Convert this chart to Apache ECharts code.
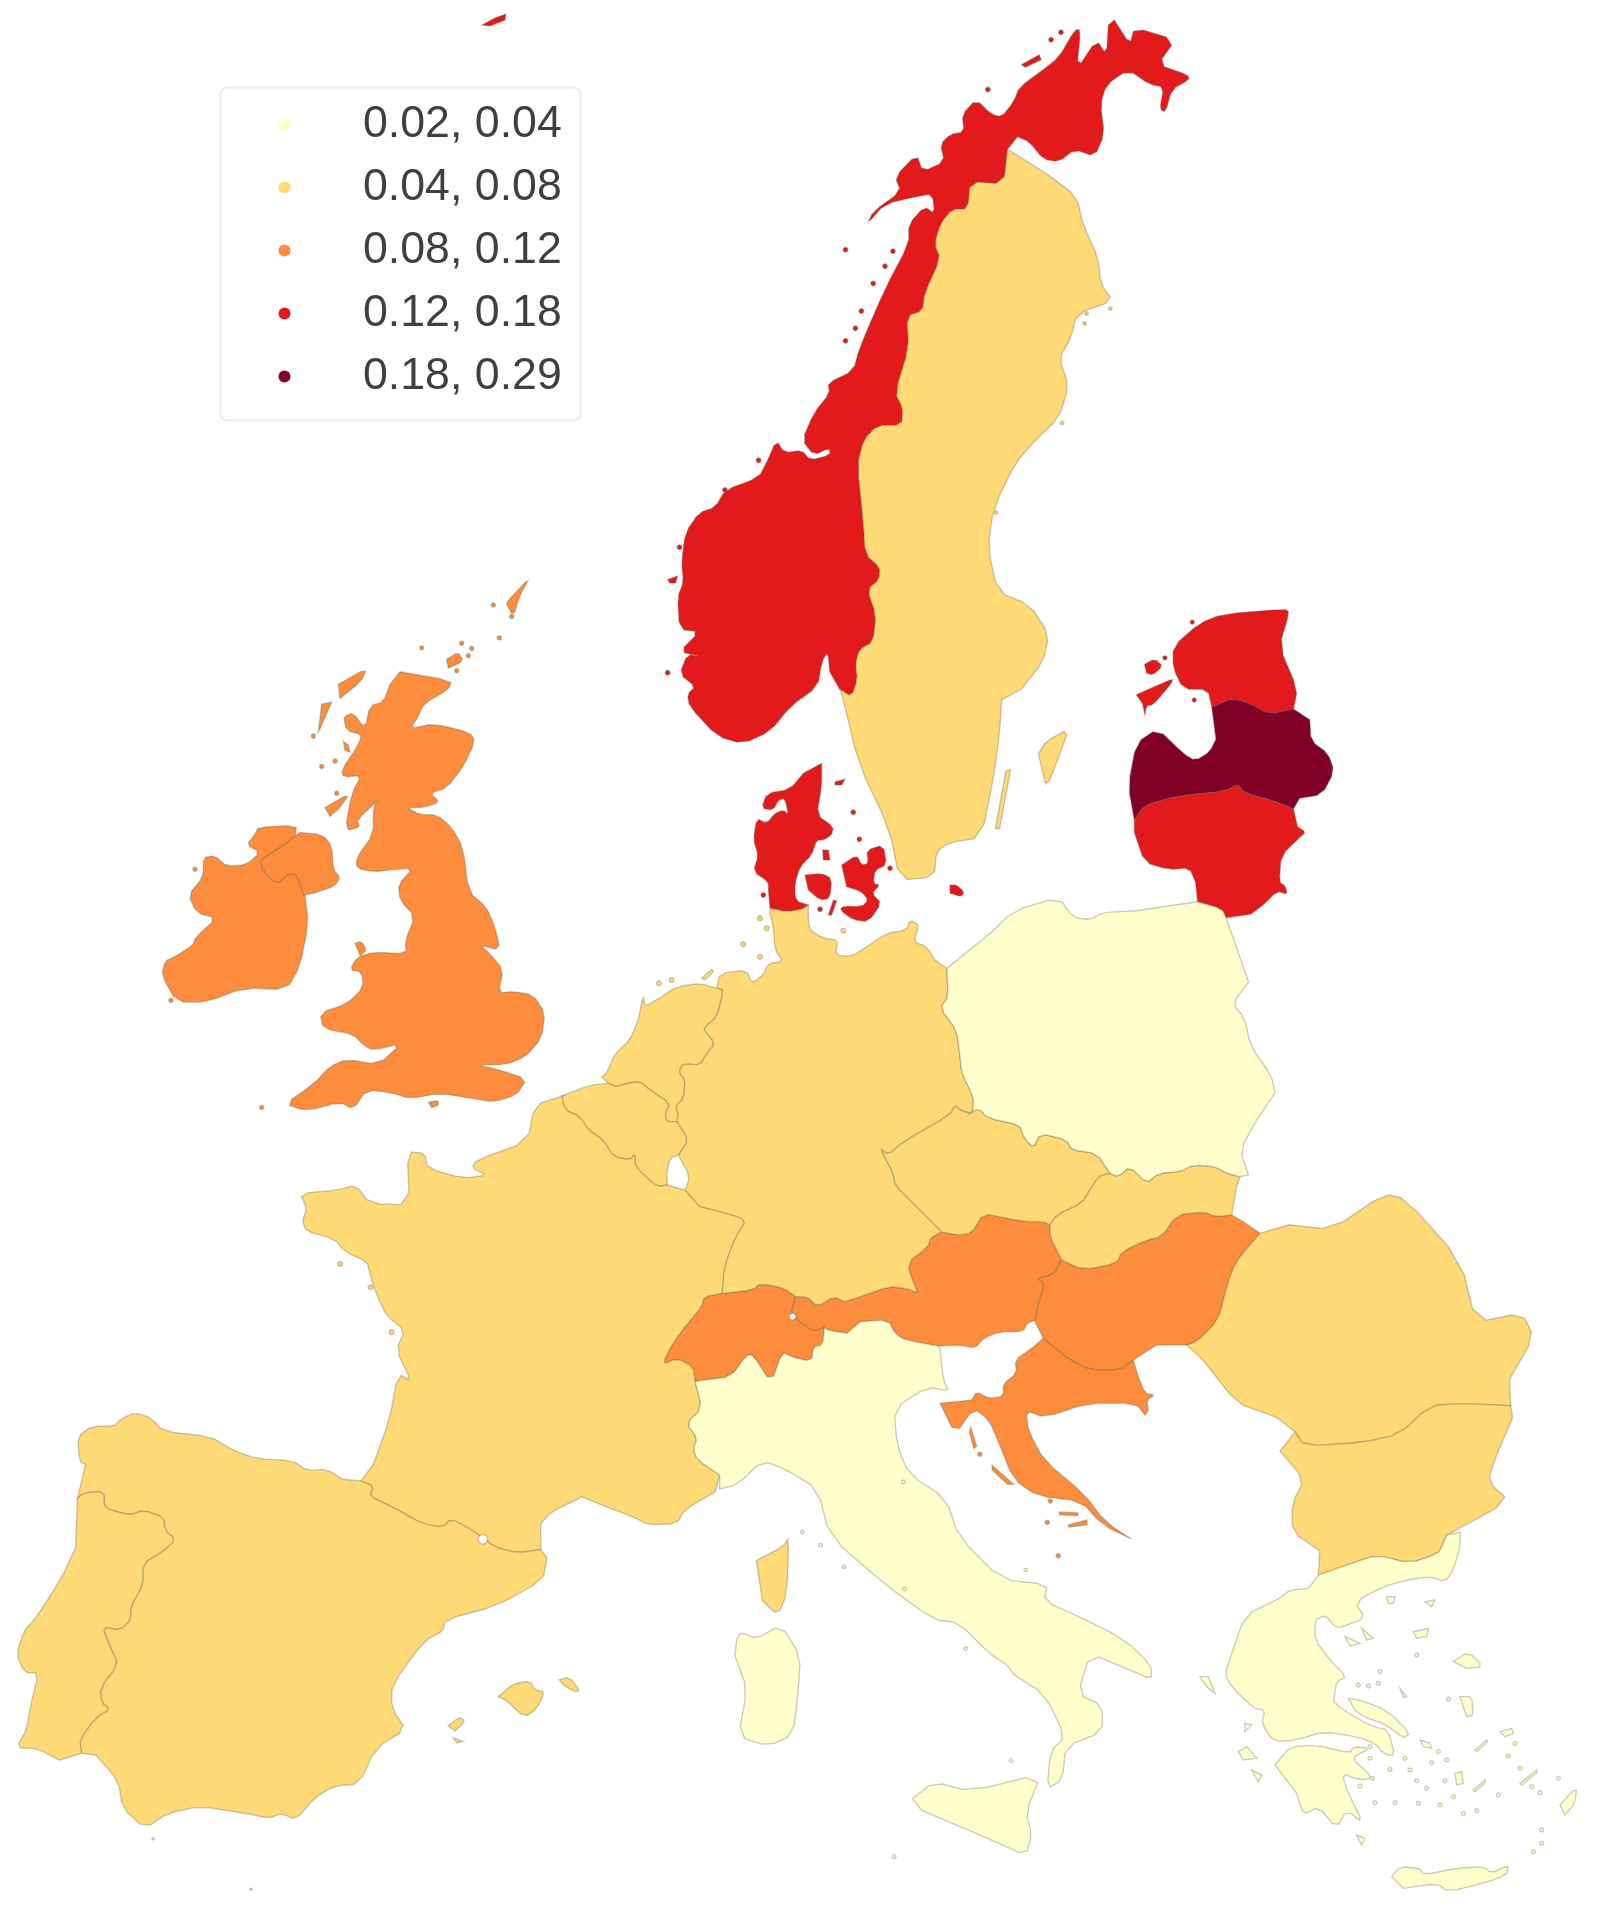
<!DOCTYPE html>
<html><head><meta charset="utf-8">
<style>html,body{margin:0;padding:0;background:#fff}#c{position:absolute;left:0;top:0;width:1597px;height:1917px;filter:blur(0.7px)}</style>
<script src="https://cdn.jsdelivr.net/npm/echarts@6/dist/echarts.min.js"></script>
</head><body><div id="c"></div>
<script>
// ---- DATA ----
const countries = ['Norway','Denmark','Estonia','Lithuania','Latvia','United Kingdom','Ireland','Switzerland','Austria','Hungary','Croatia','Sweden','Germany','Netherlands','Belgium','France','Spain','Portugal','Czechia','Slovakia','Romania','Bulgaria','Poland','Italy','Greece'];
const values    = [0.15,0.14,0.15,0.15,0.23,0.10,0.10,0.10,0.09,0.10,0.09,0.06,0.06,0.05,0.06,0.06,0.06,0.05,0.06,0.06,0.05,0.05,0.03,0.03,0.03];
const binLower  = [0.02,0.04,0.08,0.12,0.18];
const binUpper  = [0.04,0.08,0.12,0.18,0.29];
const binLabels = ['0.02, 0.04','0.04, 0.08','0.08, 0.12','0.12, 0.18','0.18, 0.29'];
const binColors = ['#ffffcc','#fed976','#fd8d3c','#e31a1c','#800026'];

// ---- map geometry (traced outlines, in map units) ----
const FR={c2:[640,0,2.53,2.01],c3:[140,570,3,2.8],c4:[720,600,2.45,2.8],c5:[280,1080,2.24,3],c6:[640,1170,1.633,2.1],c7:[0,1380,2.45,2.92],c8:[560,910,3,3],c9:[860,1090,3,3],c10:[1190,1540,3,3],c11:[740,750,3,3]};
// rounds the corners of a traced line a little, keeping its two end points
function soften(p){if(p.length<3)return p;const k=0.22,o=[p[0]];for(let i=0;i<p.length-1;i++){const a=p[i],b=p[i+1];if(i>0)o.push([a[0]+(b[0]-a[0])*k,a[1]+(b[1]-a[1])*k]);if(i<p.length-2)o.push([b[0]-(b[0]-a[0])*k,b[1]-(b[1]-a[1])*k]);}o.push(p[p.length-1]);return o;}
function raw(f,a){const F=FR[f],o=[];for(let i=0;i<a.length;i+=2)o.push([F[0]+a[i]/F[2],F[1]+a[i+1]/F[3]]);return o;}
function L(f,a){return soften(raw(f,a));}
const R=l=>l.slice().reverse();
const ring=(...ls)=>[].concat(...ls);
function dots(f,a,r){return raw(f,a).map(p=>[[p[0]-r,p[1]],[p[0]-r*.7,p[1]-r*.7],[p[0],p[1]-r],[p[0]+r*.7,p[1]-r*.7],[p[0]+r,p[1]],[p[0]+r*.7,p[1]+r*.7],[p[0],p[1]+r],[p[0]-r*.7,p[1]+r*.7]]);}

const noSe=L('c2',[930,300,920,370,835,365,830,420,790,420,760,450,745,490,760,520,720,590,715,625,675,635,680,700,645,790,665,820,662,855,600,855,565,885,550,935,565,1050,570,1115,607,1140,605,1165,575,1185,597,1235,590,1290,555,1305,545,1335,550,1365,535,1400,505,1385]);
const dkDe=L('c11',[90,475,140,485,185,478,205,465]);
const dePl=L('c8',[1160,175,1165,260,1140,295,1190,360,1200,440,1205,490,1240,560,1240,600,1230,609]);
const deCz=L('c9',[330,70,300,60,285,45,270,75,130,155,85,195,60,175,100,250,105,285,170,350,245,425]);
const deAt=ring(L('c9',[245,425,210,445,205,470,140,520,165,590,175,610,140,595,85,590,0,620]),L('c5',[1265,665,1240,650,1205,680,1180,650,1155,650]));
const deCh=L('c5',[1155,650,1130,625,1075,610,1060,630,990,640]);
const deFr=ring(L('c5',[990,640,995,560,1020,470,1045,420,1000,400,940,380]),L('c8',[375,840]));
const deLu=L('c8',[375,840,390,800,355,735]);
const deBe=L('c8',[355,735,385,690,360,650,350,635]);
const nlDe=L('c8',[350,635,355,610,345,590,370,565,375,510,355,485,370,460,420,465,440,430,465,400,430,360,440,345,470,320,490,240,470,235]);
const nlBe=L('c8',[145,520,170,530,200,520,240,515,270,540,330,580,315,610,320,635,350,635]);
const beFr=L('c8',[5,558,15,600,60,620,85,660,130,690,160,740,210,750,225,730,225,770,290,830,322,825]);
const beLu=L('c8',[322,825,320,790,330,745,355,735]);
const frEs=L('c7',[885,295,915,310,905,340,960,370,1035,420,1085,430,1105,405,1160,440,1215,490,1270,505,1325,495]);
const esPt=L('c7',[190,345,205,330,255,325,255,375,320,395,350,380,400,400,405,440,430,465,400,500,350,535,350,600,320,660,320,700,295,730,250,720,270,780,290,830,245,900,250,945,270,960,235,985,195,1050,200,1090]);
const frIt=L('c5',[985,1185,935,1140,925,1105,935,1075,910,1030,945,985,930,905]);
const frCh=L('c5',[930,905,925,860,890,835,855,855,880,790,910,735,945,680,950,650,990,640]);
const chAt=L('c5',[1155,650,1145,700,1160,720,1195,755,1220,740]);
const chIt=L('c5',[1220,740,1215,795,1195,800,1190,845,1145,830,1125,815,1100,910,1060,825,1045,825,1010,890,950,900,930,905]);
const atCz=L('c9',[245,425,290,435,335,430,370,370,440,385,500,395,550,395,570,405]);
const atSk=L('c9',[570,405,570,440,605,510]);
const atHu=L('c9',[605,510,580,555,530,565,555,580,535,640,530,670]);
const atSi=L('c9',[530,670,530,690,500,700,490,725,420,725,370,745,345,775,300,765,235,768]);
const atIt=ring(L('c9',[235,768,135,750,105,730,85,690,0,695]),L('c5',[1270,760,1225,750,1220,740]));
const czPl=L('c9',[330,70,355,55,385,85,480,105,490,140,520,175,540,130,620,150,635,180,710,190,750,250]);
const czSk=L('c9',[750,250,715,260,690,300,665,340,590,375,570,405]);
const skPl=L('c9',[750,250,775,260,810,230,860,280,895,250,960,245,1000,225,1065,230,1100,250,1140,260]);
const skHu=L('c9',[1115,375,1065,380,1030,365,950,375,905,440,860,450,785,485,770,520,670,540,605,510]);
const huRo=L('c9',[1200,430,1165,470,1125,520,1100,590,1075,690,1010,755,980,765]);
const huHr=L('c9',[820,810,780,840,690,840,630,810,580,770,550,745]);
const ltPl=L('c4',[1170,845,1230,865,1240,890]);
const lvLt=L('c4',[1015,615,1040,575,1100,555,1150,545,1240,535,1268,515,1285,540,1350,560,1405,585]);
const etLv=L('c4',[1205,300,1255,275,1300,290,1345,320,1405,305]);
const roBg=L('c6',[1422,495,1340,490,1290,495,1240,555,1180,572,1085,580,1070,550]);
const bgGr=L('c10',[770,-15,755,20,745,40,660,70,560,45,500,65,385,105]);
const niIe=L('c3',[465,745,430,770,380,800,360,815,370,845,410,880,450,850,470,855,490,910]);

const outlines={
 'Norway':[ring(L('c2',[1200,40,1240,90,1250,55,1355,80,1310,130,1385,150,1390,160,1345,180,1330,225,1315,220,1325,175,1290,170,1235,140,1180,170,1165,210,1175,270,1150,315,1100,300,1060,325,1020,320,985,285,955,275]),noSe,L('c2',[480,1350,475,1310,460,1330,450,1380,380,1420,330,1470,260,1495,195,1480,125,1420,120,1395,140,1380,100,1355,120,1315,155,1320,100,1310,150,1270,100,1265,95,1200,110,1170,105,1130,115,1070,150,1030,190,1020,215,985,300,960,320,930,345,885,365,910,410,905,430,925,480,915,480,900,440,915,410,885,440,830,480,790,475,770,540,745,555,700,620,580,680,490,680,450,720,415,745,430,740,390,700,395,620,410,575,450,590,425,660,385,645,355,700,310,715,345,770,325,760,290,785,270,820,265,815,230,850,200,890,230,915,235,945,205,960,175,1020,140,1060,115,1100,60,1115,60,1105,140,1155,80,1180,110,1185,50])),
  raw('c2',[965,130,1010,110,1015,120,975,135]),raw('c2',[70,1165,95,1158,90,1172,75,1172]),
  [[482,25],[495,18],[506,14],[505,20],[490,26]],
  ...dots('c2',[520,502,300,925,520,685,545,660,560,625,590,570,620,535,640,505,1040,80,1065,65,880,180,70,1352,215,985,100,1100],2.5)],
 'Sweden':[ring(R(noSe),L('c2',[1030,350,1105,395,1120,450,1160,520,1165,570,1197,605,1105,630,1090,680,1060,720,1085,775,1060,840,1000,885,950,930,895,1020,880,1100,905,1190,985,1215,1035,1275,1020,1330,965,1385]),L('c4',[690,280,685,370,670,500,640,665,560,680,530,705,525,775,440,785,415,640,340,460,300,270])),
  L('c4',[780,430,800,395,855,360,830,440,800,525,790,480]),raw('c4',[700,480,712,475,685,640,675,640]),
  ...dots('c2',[1130,630,1190,620,1125,650,1068,850,900,1030],1.8)],
 'Denmark':[ring(L('c11',[245,40,245,110,230,195,280,230,275,255,250,270,230,270,215,315,180,350,165,400,165,440,175,455]),R(dkDe),L('c11',[85,420,85,395,40,365,55,315,40,270,50,205,80,220,105,190,130,180,145,195,135,145,115,150,100,180,65,175,80,130,150,118,190,70])),
  L('c11',[195,375,245,370,275,385,270,445,240,450,205,420]),
  L('c11',[305,345,350,315,365,345,385,340,380,300,430,285,440,345,405,360,400,400,420,405,395,430,425,460,385,515,340,510,300,480,310,468,365,470,385,450,365,425,320,410]),
  raw('c11',[280,450,290,452,275,495,265,495]),
  L('c11',[630,405,650,405,672,425,665,440,630,430]),
  raw('c11',[285,95,315,88,305,105,285,105]),raw('c11',[248,300,265,300,270,330,250,330]),
  ...dots('c11',[340,187,358,268,450,355,240,478,70,435],2.5)],
 'Estonia':[ring(L('c4',[1205,300,1195,250,1135,250,1110,190,1110,130,1175,65,1230,40,1385,25,1395,35,1370,130,1415,250,1405,305]),R(etLv)),
  L('c4',[1020,265,1060,245,1110,220,1105,235,1060,295,1045,295,1040,330,1035,290]),L('c4',[1040,180,1065,165,1085,185,1060,210,1045,205]),
  ...dots('c4',[1090,162,1157,62,1162,280],2.2)],
 'Latvia':[ring(L('c4',[1015,615,1000,520,1020,400,1072,360,1135,430,1165,450,1200,425,1215,390]),etLv,L('c4',[1445,335,1448,395,1490,430,1505,480,1475,545,1420,555]),R(lvLt))],
 'Lithuania':[ring(lvLt,L('c4',[1415,635,1435,650,1420,665,1375,715,1370,790,1385,800,1390,825,1365,815,1330,855,1300,880]),R(ltPl),L('c4',[1165,790,1150,750,1100,755,1040,735,1015,650]))],
 'United Kingdom':[L('c3',[780,285,935,310,925,335,850,375,835,410,810,445,880,430,990,455,1005,480,970,550,920,610,870,625,900,650,850,665,800,665,840,685,890,685,935,720,970,780,985,900,1040,945,1065,1000,1080,1065,1020,1050,1050,1075,1090,1120,1075,1185,1120,1180,1180,1190,1215,1240,1205,1310,1160,1360,1100,1385,1010,1385,1080,1400,1160,1425,1130,1470,1060,1490,1000,1480,900,1465,810,1480,760,1465,680,1455,640,1510,600,1490,500,1515,435,1495,520,1440,570,1390,620,1370,715,1385,785,1325,700,1345,670,1330,640,1300,550,1285,540,1240,620,1215,670,1170,665,1125,630,1120,650,1085,700,1070,800,1075,795,1040,825,970,780,925,775,880,820,835,750,840,700,845,650,835,650,805,700,740,700,660,720,640,650,700,660,720,615,730,635,625,665,575,610,580,605,560,655,490,665,460,620,450,610,410,640,400,675,445,690,380,730,370,750,320]),
  ring(niIe,L('c3',[520,905,585,885,600,860,580,840,575,770,545,740,480,735])),
  L('c3',[645,1045,665,1040,680,1065,660,1080]),L('c3',[865,1490,895,1485,895,1500,875,1505]),
  L('c3',[595,320,680,275,665,310,600,360]),raw('c3',[545,375,575,370,535,455]),L('c3',[555,665,630,625,600,665,570,690]),
  L('c3',[920,250,955,230,970,255,925,275]),L('c3',[1105,85,1170,20,1140,70,1120,130,1100,95]),
  raw('c3',[610,480,625,490,630,510,615,505]),
  ...dots('c3',[1060,98,1078,190,845,218,520,465,545,550,585,535,590,625,365,1505,965,205,995,220,985,240,950,282,1115,130],2.2)],
 'Ireland':[ring(L('c3',[465,745,470,715,355,720,345,740,320,770,360,790,320,825,260,830,225,800,190,805,190,860,145,910,170,960,230,975,165,1030,160,1050,100,1085,75,1095,65,1135,110,1210,200,1210,310,1170,440,1175,480,1110,505,990,495,910]),R(niIe)),
  ...dots('c3',[93,1205,165,838],2.2)],
 'Switzerland':[ring(R(deCh),chAt,chIt,frCh)],
 'Austria':[ring(R(deAt),atCz,atSk,atHu,atSi,atIt,R(chAt))],
 'Hungary':[ring(R(skHu),L('c9',[1150,395]),huRo,L('c9',[890,765]),huHr,L('c9',[525,695]),R(atHu))],
 'Croatia':[ring(L('c9',[820,810,835,860,855,910,885,915,860,930,865,960]),L('c6',[825,515,810,490,730,490,660,520,630,505,635,550,660,610,725,680,760,740,815,785,755,745,720,695,650,685,610,650,585,570,570,525,545,500,515,555,490,490]),L('c9',[335,930,350,905,385,925,430,920,430,880,470,850,465,810,515,775]),R(huHr)),
  raw('c6',[540,540,550,580,545,585,538,550]),raw('c6',[575,620,610,660,600,660,575,630]),raw('c6',[700,745,730,735,730,745,700,750]),raw('c6',[685,718,715,720,715,726,685,724]),
  ...dots('c6',[665,740,683,810,555,597,670,695],2.2)],
 'Germany':[ring(L('c8',[470,235,480,190,560,180,575,220,610,195,625,160,670,155,645,120,640,50,630,10]),dkDe,L('c8',[745,30,750,60,790,85,835,90,825,135,875,140,920,110,980,70,1040,60,1050,30,1078,45,1060,95,1100,110,1125,150]),dePl,deCz,deAt,deCh,deFr,deLu,deBe,nlDe),
  raw('c8',[425,205,455,178,460,185,435,210]),
  ...dots('c8',[297,220,335,210,550,103,600,140,620,55,600,25,850,62],2.5)],
 'Netherlands':[ring(L('c8',[470,235,420,220,350,230,290,270,255,290,250,255,235,330,210,390,165,430,140,490,125,500]),nlBe,nlDe)],
 'Belgium':[ring(L('c8',[145,520,90,525,5,558]),beFr,beLu,deBe,R(nlBe))],
 'France':[ring(L('c5',[633,48,570,75,555,185,440,240,430,265,465,285,410,295,330,265,325,220,285,215,290,375,200,370,170,315,130,330,45,340,60,385,50,425,60,455,120,475,145,515,195,545,200,575,215,640,240,710,280,750,260,810,295,905,265,880,245,1020,210,1150]),frEs,L('c7',[1325,420,1350,385,1420,345]),L('c5',[675,1250,730,1280,790,1310,825,1335,890,1330,905,1290,975,1235]),frIt,frCh,deFr,R(beFr)),
  L('c6',[190,820,235,790,243,770,240,890,225,935,200,905]),
  ...dots('c5',[135,552,203,622,250,757],2.5)],
 'Spain':[ring(frEs,L('c7',[1340,520,1330,585,1215,660,1090,700,1085,735,1040,760,960,890,960,960,995,1020,920,1075,880,1180,820,1185,770,1220,725,1285,690,1265,660,1280,600,1265,490,1245,410,1265,355,1310,300,1250,290,1170,235,1095]),R(esPt),L('c7',[210,245,195,240,190,165,225,135,280,135,295,115,330,95,370,110,400,150,515,165,570,205,630,230,715,235,755,265,800,260,840,290])),
  L('c7',[1220,925,1260,885,1300,880,1310,905,1335,910,1315,960,1285,985,1240,935]),L('c7',[1370,875,1395,868,1420,905,1410,912,1380,890]),L('c7',[1098,1010,1125,985,1140,995,1115,1025]),raw('c7',[1110,1045,1135,1055,1120,1060]),
  ...dots('c7',[375,1340,615,1487],1.2)],
 'Portugal':[ring(L('c7',[185,490,150,580,85,700,60,730,40,800,60,855,95,855,75,950,65,1020,40,1075,90,1075,145,1110]),R(esPt))],
 'Czechia':[ring(R(deCz),czPl,czSk,R(atCz))],
 'Slovakia':[ring(skPl,L('c9',[1130,290]),skHu,R(atSk),R(czSk))],
 'Romania':[ring(R(huRo),L('c6',[1060,115,1130,125,1215,50,1250,60,1340,190,1365,320,1440,300,1460,350,1420,440]),roBg,L('c6',[1040,520,1020,510,975,490,920,400]))],
 'Bulgaria':[ring(R(roBg),L('c6',[1425,520,1395,610,1385,655,1420,695,1320,765]),bgGr,L('c6',[1110,800,1065,760,1065,700,1085,650,1045,590]))],
 'Poland':[ring(L('c4',[660,935,720,870,830,832,865,890,910,895,935,875,1020,870]),ltPl,L('c4',[1295,1070,1255,1130,1285,1170,1300,1250,1350,1330,1360,1380]),L('c9',[1190,90,1140,180,1165,255]),R(skPl),R(czPl),R(dePl))],
 'Italy':[ring(R(chIt),R(atIt),L('c6',[490,375,495,440,505,465,470,455,415,500,420,580,440,640,500,690,520,770,590,860,665,870,660,905,720,940,790,985,835,1040,835,1070,800,1050,735,1015,715,1100,755,1125,755,1180,695,1210,690,1280,665,1300,670,1220,695,1190,660,1100,610,1060,600,1040,570,1015,520,950,480,945,400,870,310,770,290,670,240,630,200,610,160,660,130,670]),frIt),
  L('c6',[445,1320,480,1285,540,1305,655,1268,630,1350,640,1395,630,1440,580,1410,460,1345]),
  L('c6',[158,985,165,970,190,985,230,955,262,1020,258,1100,250,1185,210,1210,160,1190,175,1090,155,1020]),
  ...dots('c6',[265,760,295,788,333,833,432,880,430,655,630,840,532,1005,606,1240,415,1442],1.8)],
 'Greece':[ring(L('c10',[811,-24]),bgGr,L('c10',[355,145,300,150,260,180,165,225,120,355,105,405,125,440,190,505,225,510,215,550,250,605,320,600,400,575,500,590,555,610,580,640,615,650,595,570,550,560,510,540,430,490,435,455,440,425,470,410,420,360,375,300,375,240,405,225,440,265,470,255,525,235,495,185,580,140,650,120,720,110,765,125,790,90,810,20])),
  L('c10',[475,475,510,480,590,510,660,580,640,595,590,555,520,530,495,510]),
  L('c10',[255,675,300,620,380,615,480,640,490,620,540,625,500,645,490,660,530,695,545,715,510,720,455,700,475,760,520,850,470,810,440,865,385,800,340,825,320,760]),
  L('c10',[605,1010,630,980,690,985,700,1005,800,985,880,980,905,1000,955,975,950,1005,880,1030,775,1055,740,1030,640,1045]),
  L('c10',[790,365,835,335,880,380,830,385]),L('c10',[810,470,845,470,850,525,830,530]),L('c10',[1110,795,1160,740,1155,790,1125,825]),
  raw('c10',[670,275,715,265,710,290,680,295]),raw('c10',[590,170,615,170,610,190,595,190]),raw('c10',[705,185,735,180,725,200]),
  raw('c10',[145,635,170,620,200,655,160,660]),raw('c10',[185,690,215,705,205,725]),raw('c10',[30,410,55,410,75,460,50,440]),raw('c10',[165,550,185,555,165,575]),raw('c10',[500,885,525,895,515,915]),
  raw('c10',[515,265,550,295,530,300]),raw('c10',[465,290,510,310,480,318]),raw('c10',[930,575,965,565,970,580,945,590]),raw('c10',[630,445,650,470,640,472]),raw('c10',[795,700,815,695,820,730,800,735]),
  raw('c10',[855,630,890,600,892,606,860,635]),raw('c10',[850,750,885,720,885,728,855,755]),raw('c10',[990,730,1040,690,1040,698,995,735]),raw('c10',[690,600,720,610,725,625,700,620]),
  ...dots('c10',[680,345,570,395,565,430,505,435,535,438,775,478,975,610,955,648,990,685,1025,740,1050,758,1105,715,745,635,770,660,645,655,660,690,725,668,680,722,710,745,765,722,925,765,790,770,750,795,685,790,615,788,555,788,600,688,540,655,540,620,548,715,510,738,820,820,860,812,1055,870,1055,910,1030,935],2)]
};
// small enclaves drawn as blank
const blanks={'Andorra':dots('c7',[1183,465],5)[0],'Liechtenstein':dots('c5',[1148,710],3.5)[0]};

const features=Object.keys(outlines).map(n=>({type:'Feature',properties:{name:n},geometry:{type:'MultiPolygon',coordinates:outlines[n].map(r=>[r.concat([r[0]]).map(p=>[p[0],-p[1]])])}}));
Object.keys(blanks).forEach(n=>{const r=blanks[n];features.push({type:'Feature',properties:{name:n},geometry:{type:'Polygon',coordinates:[r.concat([r[0]]).map(p=>[p[0],-p[1]])]}});});

echarts.registerMap('europe',{type:'FeatureCollection',features});
const chart=echarts.init(document.getElementById('c'),null,{renderer:'canvas',width:1597,height:1917});
chart.setOption({
 animation:false,
 backgroundColor:'#ffffff',
 graphic:[{type:'rect',z:-1,shape:{x:220.5,y:87.5,width:360,height:333,r:7},style:{fill:'#ffffff',stroke:'#ececec',lineWidth:2}}],
 visualMap:{type:'piecewise',seriesIndex:0,orient:'vertical',inverse:true,left:263.5,top:87,itemWidth:12,itemHeight:12,itemGap:18,textGap:72.5,itemSymbol:'circle',selectedMode:false,hoverLink:false,align:'left',
  textStyle:{fontFamily:'"Liberation Sans",Arial,sans-serif',fontSize:44.7,color:'#3f3f3f'},
  pieces:binLabels.map((t,i)=>({min:binLower[i],max:binUpper[i],label:t,color:binColors[i]}))},
 series:[{type:'map',map:'europe',roam:false,aspectScale:1,boundingCoords:[[0,0],[1597,-1917]],left:0,top:0,width:1597,height:1917,selectedMode:false,silent:true,
  label:{show:false},emphasis:{disabled:true},
  itemStyle:{areaColor:'#ffffff',borderColor:'rgba(95,95,75,0.32)',borderWidth:1.4},
  data:countries.map((n,i)=>({name:n,value:values[i]}))}]
});
</script></body></html>
